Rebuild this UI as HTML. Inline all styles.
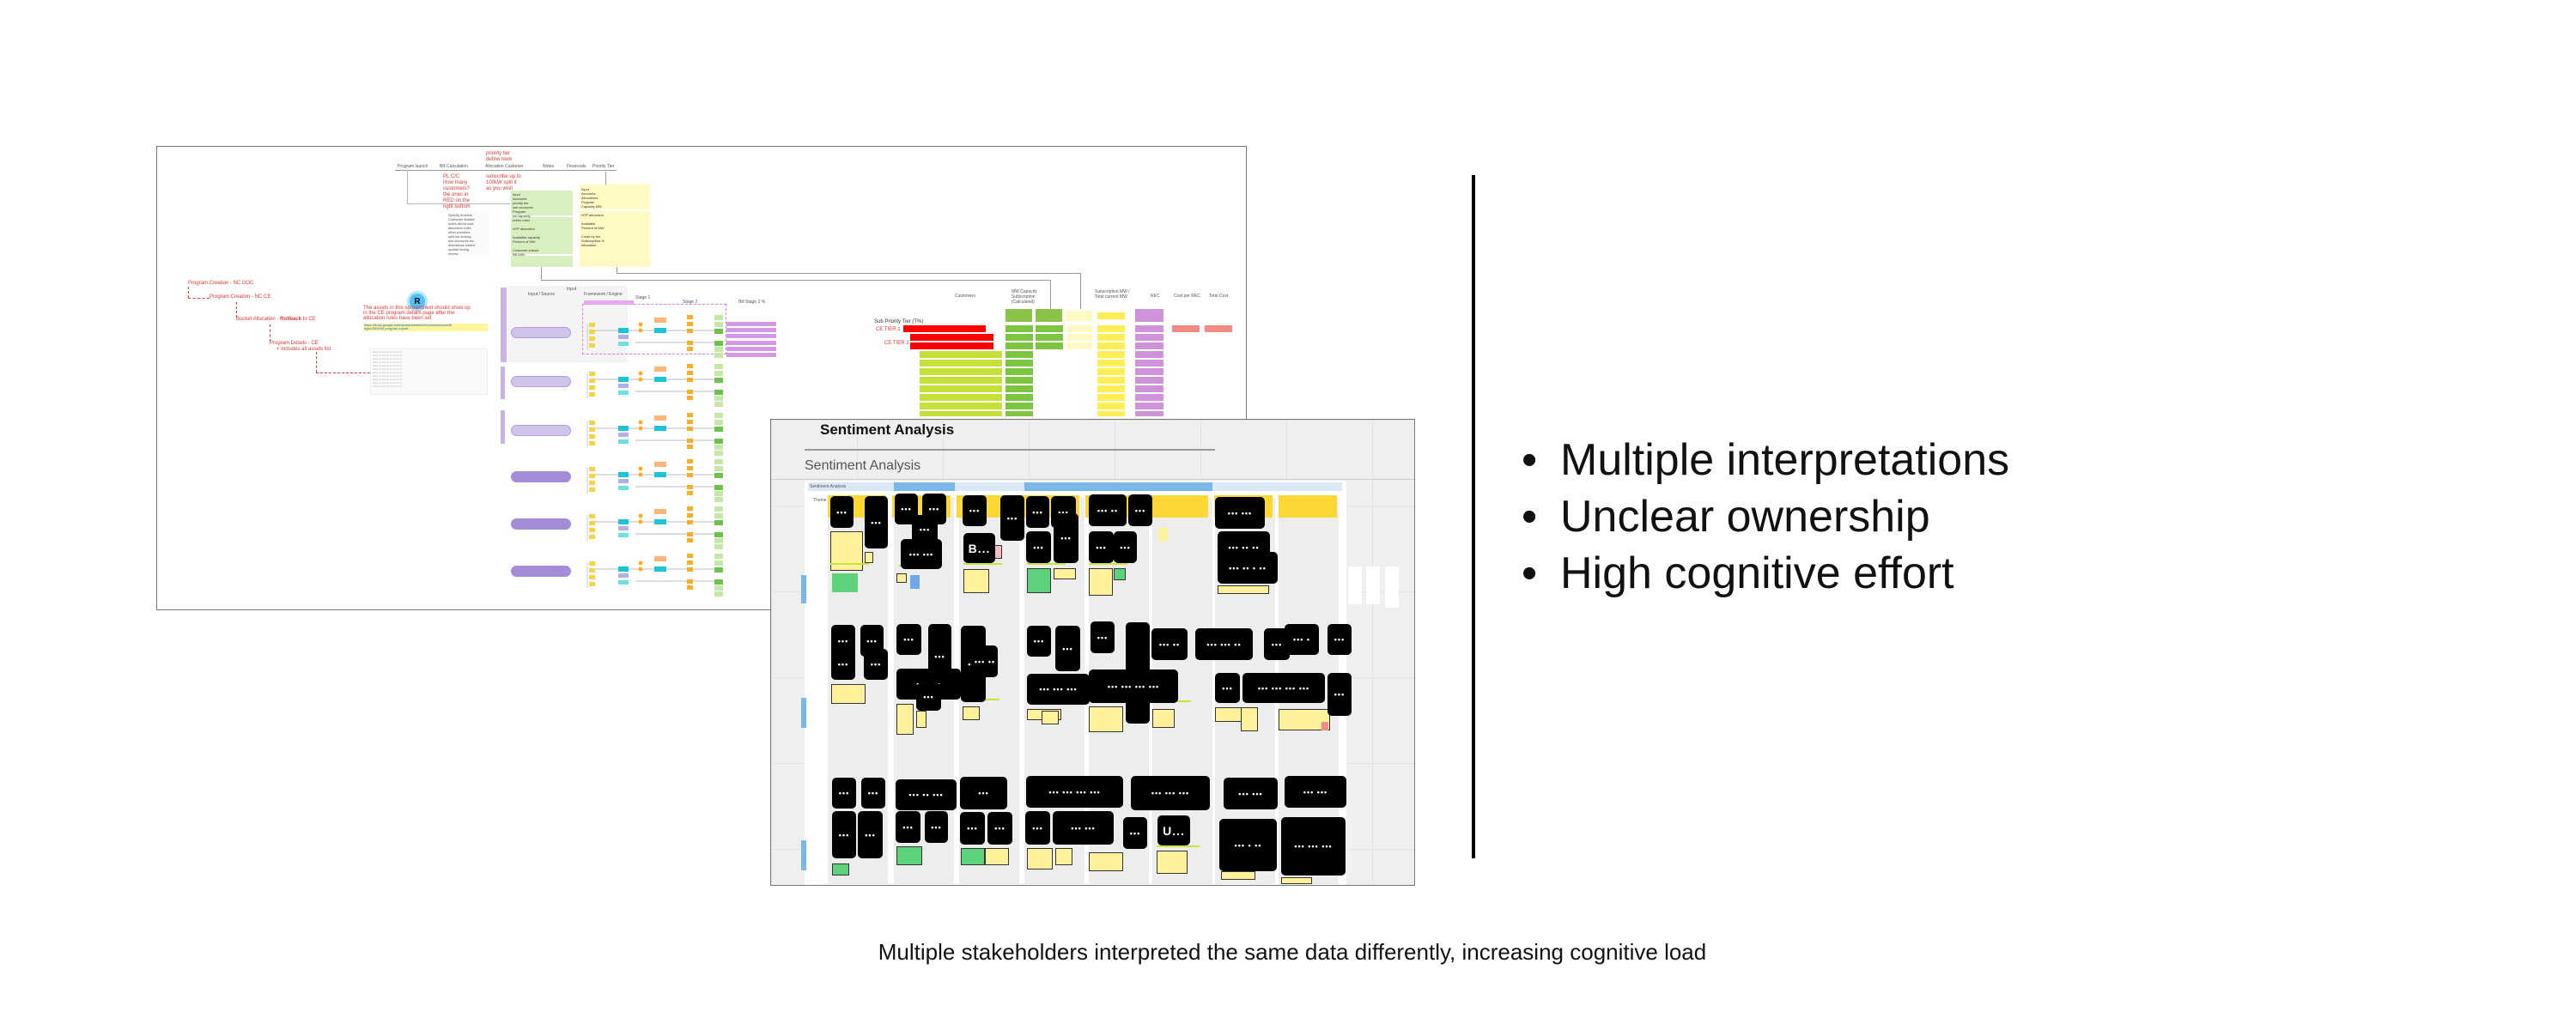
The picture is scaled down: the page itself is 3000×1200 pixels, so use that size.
<!DOCTYPE html>
<html><head><meta charset="utf-8">
<style>
*{margin:0;padding:0;box-sizing:border-box}
body{width:3000px;height:1200px;background:#fff;position:relative;overflow:hidden;font-family:"Liberation Sans",sans-serif}
.a{position:absolute}
.b{position:absolute;background:#000;border-radius:5px;color:#fff;font:bold 9px "Liberation Sans",sans-serif;display:flex;align-items:center;justify-content:center;letter-spacing:1px}
.t{position:absolute;font-size:5px;color:#555;white-space:nowrap}
.r{position:absolute;font-size:6px;color:#e53935;white-space:nowrap}
.n{position:absolute;border-radius:2px}
.col{position:absolute;background:#ededed;top:580px;height:450px;width:70px}
.y{position:absolute;background:#fff29a;border:1.5px solid #333}
.bl{position:absolute;font:52px 'Liberation Sans',sans-serif;color:#111;white-space:nowrap;line-height:60px}
</style></head><body>

<!-- LEFT DIAGRAM -->
<div class="a" style="left:182px;top:170px;width:1270px;height:541px;border:1.5px solid #777;background:#fff"></div>
<div class="r" style="left:566px;top:176px">priority tier</div>
<div class="r" style="left:566px;top:183px">define here</div>
<div class="t" style="left:463px;top:191px">Program launch</div>
<div class="t" style="left:512px;top:191px">Bill Calculation</div>
<div class="t" style="left:565px;top:191px">Allocation Customer</div>
<div class="t" style="left:632px;top:191px">Notes</div>
<div class="t" style="left:660px;top:191px">Financials</div>
<div class="t" style="left:690px;top:191px">Priority Tier</div>
<div class="a" style="left:460px;top:198px;width:258px;height:1px;background:#999"></div>
<div class="a" style="left:474px;top:198px;width:1px;height:40px;background:#bbb"></div>
<div class="a" style="left:474px;top:237px;width:120px;height:1px;background:#bbb"></div>
<div class="r" style="left:516px;top:203px;line-height:7px">PL C/C<br>How many<br>customers?<br>the ones in<br>RED on the<br>right bottom</div>
<div class="r" style="left:566px;top:203px;line-height:7px">subscribe up to<br>100kW split it<br>as you wish</div>
<div class="a" style="left:521px;top:247px;width:50px;height:50px;background:#fafafa"></div>
<div class="t" style="left:522px;top:248px;line-height:5px;font-size:4px">Specify timeline<br>Customer finalize<br>notes about cost<br>allocation rules<br>other priorities<br>split kw among<br>sub accounts etc<br>allocations based<br>update timing<br>review</div>
<div class="a" style="left:595px;top:222px;width:72px;height:89px;background:#d8efbf"></div>
<div class="a" style="left:595px;top:251px;width:72px;height:2px;background:#fff"></div>
<div class="a" style="left:595px;top:296px;width:72px;height:2px;background:#fff"></div>
<div class="t" style="left:597px;top:224px;line-height:5px;font-size:4px;color:#333">Input<br>Accounts<br>priority tier<br>sub accounts<br>Program<br>kw capacity<br>meter rules<br><br>NTP allocation<br><br>Available capacity<br>Percent of MW<br><br>Customer subscr.<br>Bill kWh</div>
<div class="a" style="left:675px;top:215px;width:82px;height:96px;background:#fff9c4"></div>
<div class="a" style="left:675px;top:244px;width:82px;height:2px;background:#fff"></div>
<div class="t" style="left:677px;top:218px;line-height:5px;font-size:4px;color:#333">Input<br>Accounts<br>Allocations<br>Program<br>Capacity MW<br><br>NTP allocation<br><br>Available<br>Percent of MW<br><br>Costs by tier<br>Subscription %<br>Allocation</div>
<div class="a" style="left:705px;top:200px;width:1px;height:15px;background:#999"></div>
<div class="a" style="left:630px;top:311px;width:1px;height:15px;background:#999"></div>
<div class="a" style="left:630px;top:326px;width:594px;height:1px;background:#999"></div>
<div class="a" style="left:1223px;top:326px;width:1px;height:34px;background:#999"></div>
<div class="a" style="left:718px;top:311px;width:1px;height:8px;background:#999"></div>
<div class="a" style="left:718px;top:318px;width:540px;height:1px;background:#999"></div>
<div class="a" style="left:1258px;top:318px;width:1px;height:42px;background:#999"></div>

<div class="r" style="left:219px;top:327px">Program Creation - NC DOC</div>
<div class="a" style="left:219px;top:334px;width:1px;height:13px;border-left:1px dashed #e53935"></div>
<div class="a" style="left:219px;top:347px;width:25px;border-top:1px dashed #e53935"></div>
<div class="r" style="left:244px;top:343px">Program Creation - NC CE</div>
<div class="a" style="left:275px;top:352px;width:1px;height:18px;border-left:1px dashed #e53935"></div>
<div class="r" style="left:275px;top:369px">Bucket Allocation - <b>Rollback</b> to CE</div>
<div class="a" style="left:314px;top:378px;width:1px;height:20px;border-left:1px dashed #e53935"></div>
<div class="r" style="left:314px;top:397px">Program Details - CE</div>
<div class="r" style="left:322px;top:404px">+ Includes all assets list</div>
<div class="a" style="left:368px;top:410px;width:1px;height:24px;border-left:1px dashed #e53935"></div>
<div class="a" style="left:368px;top:434px;width:63px;border-top:1px dashed #e53935"></div>
<div class="a" style="left:431px;top:406px;width:137px;height:54px;background:#fafafa;border:1px solid #eee"></div>
<div class="t" style="left:434px;top:408px;line-height:4px;font-size:3px;color:#aaa">xxxx xx xxx xx xx xx xx xx<br>xxxx xx xxx xx xx xx xx xx<br>xxxx xx xxx xx xx xx xx xx<br>xxxx xx xxx xx xx xx xx xx<br>xxxx xx xxx xx xx xx xx xx<br>xxxx xx xxx xx xx xx xx xx<br>xxxx xx xxx xx xx xx xx xx<br>xxxx xx xxx xx xx xx xx xx<br>xxxx xx xxx xx xx xx xx xx<br>xxxx xx xxx xx xx xx xx xx<br>xxxx xx xxx xx xx xx xx xx</div>
<div class="a" style="left:474px;top:339px;width:24px;height:24px;border-radius:50%;background:#4fc3f7;border:3px solid #b3e5fc;color:#000;font:bold 10px 'Liberation Sans';display:flex;align-items:center;justify-content:center">R</div>
<div class="r" style="left:423px;top:356px;line-height:6px">The assets in this spreadsheet should show up<br>in the CE program details page after the<br>allocation rules have been set</div>
<div class="a" style="left:423px;top:377px;width:145px;height:9px;background:#fff59d"></div>
<div class="t" style="left:424px;top:377px;color:#1565c0;font-size:4px;line-height:4px">https://docs.google.com/spreadsheets/d/1xxxxxxxxxx/edit<br>#gid=000000 program export</div>

<div class="a" style="left:591px;top:333px;width:140px;height:89px;background:#f4f4f4"></div>
<div class="a" style="left:583px;top:335px;width:7px;height:87px;background:#c9b3e6"></div>
<div class="a" style="left:583px;top:427px;width:5px;height:38px;background:#c9b3e6"></div>
<div class="a" style="left:583px;top:478px;width:5px;height:39px;background:#c9b3e6"></div>
<div class="t" style="left:660px;top:334px">Input</div>
<div class="t" style="left:615px;top:340px">Input / Source</div>
<div class="t" style="left:680px;top:340px">Framework / Engine</div>
<div class="t" style="left:740px;top:344px">Stage 1</div>
<div class="t" style="left:795px;top:349px">Stage 2</div>
<div class="t" style="left:860px;top:349px">Bill Stage 2 %</div>
<div class="a" style="left:678px;top:354px;width:168px;height:59px;border:1px dashed #e57fd9"></div>
<div class="a" style="left:680px;top:350px;width:58px;height:5px;background:#e6a8ef"></div>
<div class="a" style="left:846px;top:375px;width:58px;height:5px;background:#d39ae6"></div>
<div class="a" style="left:846px;top:382px;width:58px;height:5px;background:#d39ae6"></div>
<div class="a" style="left:846px;top:389px;width:58px;height:5px;background:#d39ae6"></div>
<div class="a" style="left:846px;top:397px;width:58px;height:5px;background:#d39ae6"></div>
<div class="a" style="left:846px;top:404px;width:58px;height:5px;background:#d39ae6"></div>
<div class="a" style="left:846px;top:411px;width:58px;height:5px;background:#d39ae6"></div>

<div class="a" style="left:595px;top:381px;width:70px;height:13px;border-radius:7px;background:#d1c4ec;border:1px solid #b39ddb"></div>
<div class="a" style="left:595px;top:438px;width:70px;height:13px;border-radius:7px;background:#d1c4ec;border:1px solid #b39ddb"></div>
<div class="a" style="left:595px;top:495px;width:70px;height:13px;border-radius:7px;background:#d1c4ec;border:1px solid #b39ddb"></div>
<div class="a" style="left:595px;top:549px;width:70px;height:13px;border-radius:7px;background:#a68bd6"></div>
<div class="a" style="left:595px;top:604px;width:70px;height:13px;border-radius:7px;background:#a68bd6"></div>
<div class="a" style="left:595px;top:659px;width:70px;height:13px;border-radius:7px;background:#a68bd6"></div>

<div class="t" style="left:1112px;top:342px">Customers</div>
<div class="t" style="left:1178px;top:337px;line-height:6px">MW Capacity<br>Subscription<br>(Calculated)</div>
<div class="t" style="left:1275px;top:337px;line-height:6px">Subscription MW /<br>Total current MW</div>
<div class="t" style="left:1340px;top:342px">REC</div>
<div class="t" style="left:1367px;top:342px">Cost per REC</div>
<div class="t" style="left:1408px;top:342px">Total Cost</div>
<div class="a" style="left:1171px;top:360px;width:31px;height:15px;background:#8bc34a"></div>
<div class="a" style="left:1206px;top:360px;width:31px;height:15px;background:#8bc34a"></div>
<div class="a" style="left:1241px;top:362px;width:31px;height:12px;background:#fff9c4"></div>
<div class="a" style="left:1278px;top:364px;width:32px;height:8px;background:#ffee58"></div>
<div class="a" style="left:1322px;top:360px;width:33px;height:15px;background:#ce93d8"></div>
<div class="r" style="left:1018px;top:372px;color:#333">Sub Priority Tier (T%)</div>
<div class="r" style="left:1020px;top:381px">CE TIER 1</div>
<div class="r" style="left:1030px;top:397px">CE TIER 2</div>
<div class="a" style="left:1052px;top:379px;width:96px;height:8px;background:#f00"></div>
<div class="a" style="left:1060px;top:389px;width:97px;height:8px;background:#f00"></div>
<div class="a" style="left:1060px;top:399px;width:97px;height:8px;background:#f00"></div>
<div class="a" style="left:1071px;top:409px;width:96px;height:76px;background:repeating-linear-gradient(#c5e03a 0 8px,#fff 8px 10px)"></div>
<div class="a" style="left:1171px;top:379px;width:32px;height:106px;background:repeating-linear-gradient(#7cc441 0 8px,#fff 8px 10px)"></div>
<div class="a" style="left:1206px;top:379px;width:32px;height:28px;background:repeating-linear-gradient(#7cc441 0 8px,#fff 8px 10px)"></div>
<div class="a" style="left:1242px;top:379px;width:30px;height:28px;background:repeating-linear-gradient(#fff9c4 0 8px,#fff 8px 10px)"></div>
<div class="a" style="left:1278px;top:379px;width:32px;height:106px;background:repeating-linear-gradient(#ffee58 0 8px,#fff 8px 10px)"></div>
<div class="a" style="left:1322px;top:379px;width:33px;height:106px;background:repeating-linear-gradient(#ce93d8 0 8px,#fff 8px 10px)"></div>
<div class="a" style="left:1365px;top:379px;width:32px;height:8px;background:#f28b82"></div>
<div class="a" style="left:1403px;top:379px;width:32px;height:8px;background:#f28b82"></div>

<svg class="a" style="left:0;top:0" width="1000" height="720">
<defs>
<g id="lane">
<line x1="684" y1="-10" x2="684" y2="20" stroke="#ccc"/>
<line x1="690" y1="-2" x2="840" y2="-2" stroke="#bbb"/>
<line x1="740" y1="12" x2="840" y2="12" stroke="#bbb"/>
<rect x="686" y="-11" width="7" height="5" fill="#f5d34a"/>
<rect x="686" y="-3" width="7" height="5" fill="#f5d34a"/>
<rect x="686" y="5" width="7" height="5" fill="#f5d34a"/>
<rect x="686" y="13" width="7" height="5" fill="#f5d34a"/>
<rect x="720" y="-5" width="12" height="6" fill="#1fc4d4"/>
<rect x="720" y="3" width="12" height="5" fill="#b0b0e8"/>
<rect x="720" y="11" width="12" height="5" fill="#6ce0e8"/>
<rect x="762" y="-5" width="14" height="6" fill="#1fc4d4"/>
<rect x="762" y="-17" width="14" height="6" fill="#f7b87a"/>
<circle cx="746" cy="-9" r="2.5" fill="#f5b02a"/>
<circle cx="746" cy="-2" r="2.5" fill="#f5b02a"/>
<rect x="800" y="-20" width="7" height="5" fill="#f5b02a"/>
<rect x="800" y="-12" width="7" height="5" fill="#f5b02a"/>
<rect x="800" y="-4" width="7" height="5" fill="#f5b02a"/>
<rect x="800" y="10" width="7" height="5" fill="#f5b02a"/>
<rect x="800" y="17" width="7" height="5" fill="#f5b02a"/>
<rect x="832" y="-20" width="10" height="6" fill="#c5e8a8"/>
<rect x="832" y="-12" width="10" height="6" fill="#c5e8a8"/>
<rect x="832" y="-4" width="10" height="6" fill="#6cc24a"/>
<rect x="832" y="10" width="10" height="6" fill="#6cc24a"/>
<rect x="832" y="17" width="10" height="6" fill="#c5e8a8"/>
<rect x="832" y="24" width="10" height="6" fill="#c5e8a8"/>
</g>
</defs>
<use href="#lane" y="387"/>
<use href="#lane" y="444"/>
<use href="#lane" y="501"/>
<use href="#lane" y="555"/>
<use href="#lane" y="610"/>
<use href="#lane" y="665"/>
</svg>

<!-- SCREENSHOT 2 -->
<div class="a" style="left:897px;top:488px;width:751px;height:544px;background-color:#efefef;background-image:linear-gradient(#e2e2e2 1px,transparent 1px),linear-gradient(90deg,#e2e2e2 1px,transparent 1px);background-size:100px 100px;border:1.5px solid #777;overflow:hidden"></div>
<div class="a" style="left:955px;top:491px;font:bold 17px 'Liberation Sans',sans-serif;color:#111">Sentiment Analysis</div>
<div class="a" style="left:937px;top:523px;width:478px;height:2px;background:#999"></div>
<div class="a" style="left:937px;top:534px;font:16px 'Liberation Sans',sans-serif;color:#555">Sentiment Analysis</div>
<div class="a" style="left:898px;top:558px;width:749px;height:1px;background:#ccc"></div>
<div class="a" style="left:937px;top:560px;width:631px;height:471px;background:#fff"></div>
<div class="a" style="left:941px;top:562px;width:622px;height:10px;background:#dce8f4"></div>
<div class="t" style="left:943px;top:564px">Sentiment Analysis</div>
<div class="a" style="left:1041px;top:562px;width:71px;height:10px;background:#7cb7ea"></div>
<div class="a" style="left:1193px;top:562px;width:219px;height:10px;background:#7cb7ea"></div>
<div class="t" style="left:947px;top:580px">Theme</div>
<div class="col" style="left:964px"></div><div class="col" style="left:1041px"></div><div class="col" style="left:1117px"></div><div class="col" style="left:1193px"></div><div class="col" style="left:1268px"></div><div class="col" style="left:1342px"></div><div class="col" style="left:1415px"></div><div class="col" style="left:1489px"></div>
<div class="a" style="left:964px;top:577px;width:598px;height:26px;background:repeating-linear-gradient(90deg,#fdd835 0 68px,transparent 68px 75px)"></div>
<div class="a" style="left:933px;top:670px;width:6px;height:33px;background:#7cb7ea"></div>
<div class="a" style="left:933px;top:813px;width:6px;height:35px;background:#7cb7ea"></div>
<div class="a" style="left:933px;top:979px;width:6px;height:35px;background:#7cb7ea"></div>
<div class="a" style="left:1570px;top:660px;width:16px;height:44px;background:#fff"></div>
<div class="a" style="left:1591px;top:660px;width:16px;height:44px;background:#fff"></div>
<div class="a" style="left:1613px;top:660px;width:16px;height:48px;background:#fff"></div>

<div style="position:absolute;left:-3px;top:-2px;width:3000px;height:1200px">
<div class="y" style="left:970px;top:621px;width:38px;height:46px"></div>
<div class="y" style="left:1010px;top:645px;width:10px;height:13px"></div>
<div class="a" style="left:972px;top:670px;width:30px;height:22px;background:#5cd27a"></div>
<div class="y" style="left:1047px;top:670px;width:12px;height:11px"></div>
<div class="a" style="left:1063px;top:672px;width:11px;height:16px;background:#6fa8e8"></div>
<div class="y" style="left:1125px;top:665px;width:30px;height:28px"></div>
<div class="a" style="left:1160px;top:637px;width:10px;height:16px;background:#f7bcc0;border:1px solid #333"></div>
<div class="a" style="left:1199px;top:664px;width:28px;height:29px;background:#5cd27a;border:1.5px solid #333"></div>
<div class="y" style="left:1230px;top:664px;width:26px;height:13px"></div>
<div class="y" style="left:1271px;top:664px;width:28px;height:32px"></div>
<div class="a" style="left:1300px;top:664px;width:14px;height:14px;background:#5cd27a;border:1.5px solid #333"></div>
<div class="a" style="left:1352px;top:617px;width:11px;height:16px;background:#fff29a"></div>
<div class="y" style="left:1421px;top:684px;width:60px;height:10px"></div>
<div class="y" style="left:971px;top:799px;width:40px;height:23px"></div>
<div class="y" style="left:1047px;top:822px;width:20px;height:36px"></div>
<div class="y" style="left:1070px;top:830px;width:12px;height:20px"></div>
<div class="y" style="left:1124px;top:825px;width:20px;height:16px"></div>
<div class="y" style="left:1199px;top:828px;width:40px;height:13px"></div>
<div class="y" style="left:1216px;top:830px;width:20px;height:16px"></div>
<div class="y" style="left:1271px;top:825px;width:40px;height:30px"></div>
<div class="y" style="left:1345px;top:828px;width:26px;height:22px"></div>
<div class="y" style="left:1418px;top:826px;width:40px;height:17px"></div>
<div class="y" style="left:1448px;top:826px;width:20px;height:28px"></div>
<div class="y" style="left:1492px;top:828px;width:60px;height:25px"></div>
<div class="a" style="left:1542px;top:843px;width:8px;height:10px;background:#f48a8a"></div>
<div class="a" style="left:972px;top:1008px;width:20px;height:14px;background:#5cd27a;border:1.5px solid #333"></div>
<div class="a" style="left:1047px;top:988px;width:30px;height:22px;background:#5cd27a;border:1.5px solid #333"></div>
<div class="a" style="left:1122px;top:990px;width:28px;height:20px;background:#5cd27a;border:1.5px solid #333"></div>
<div class="y" style="left:1150px;top:990px;width:28px;height:20px"></div>
<div class="y" style="left:1199px;top:990px;width:30px;height:25px"></div>
<div class="y" style="left:1232px;top:990px;width:20px;height:20px"></div>
<div class="y" style="left:1271px;top:995px;width:40px;height:22px"></div>
<div class="y" style="left:1350px;top:993px;width:36px;height:27px"></div>
<div class="y" style="left:1425px;top:1017px;width:40px;height:10px"></div>
<div class="y" style="left:1495px;top:1024px;width:36px;height:8px"></div>
<div class="a" style="left:970px;top:658px;width:45px;height:2px;background:#c6e63c"></div>
<div class="a" style="left:1050px;top:660px;width:45px;height:2px;background:#c6e63c"></div>
<div class="a" style="left:1125px;top:658px;width:45px;height:2px;background:#c6e63c"></div>
<div class="a" style="left:1199px;top:658px;width:45px;height:2px;background:#c6e63c"></div>
<div class="a" style="left:1271px;top:658px;width:45px;height:2px;background:#c6e63c"></div>
<div class="a" style="left:1122px;top:816px;width:45px;height:2px;background:#c6e63c"></div>
<div class="a" style="left:1345px;top:818px;width:45px;height:2px;background:#c6e63c"></div>
<div class="a" style="left:1350px;top:987px;width:50px;height:2px;background:#c6e63c"></div>

<div class="b" style="left:970px;top:580px;width:27px;height:37px">•••</div>
<div class="b" style="left:1010px;top:580px;width:27px;height:61px">•••</div>
<div class="b" style="left:1045px;top:577px;width:27px;height:36px">•••</div>
<div class="b" style="left:1077px;top:577px;width:28px;height:36px">•••</div>
<div class="b" style="left:1065px;top:602px;width:30px;height:33px">•••</div>
<div class="b" style="left:1052px;top:630px;width:48px;height:35px">••• •••</div>
<div class="b" style="left:1124px;top:579px;width:28px;height:36px">•••</div>
<div class="b" style="left:1168px;top:579px;width:28px;height:53px">•••</div>
<div class="b" style="left:1125px;top:623px;width:37px;height:35px;font-size:14px">B...</div>
<div class="b" style="left:1198px;top:580px;width:27px;height:37px">•••</div>
<div class="b" style="left:1227px;top:580px;width:29px;height:37px">•••</div>
<div class="b" style="left:1198px;top:621px;width:29px;height:37px">•••</div>
<div class="b" style="left:1230px;top:600px;width:29px;height:58px">•••</div>
<div class="b" style="left:1271px;top:578px;width:44px;height:37px">••• ••</div>
<div class="b" style="left:1317px;top:578px;width:28px;height:37px">•••</div>
<div class="b" style="left:1271px;top:621px;width:29px;height:37px">•••</div>
<div class="b" style="left:1300px;top:621px;width:27px;height:37px">•••</div>
<div class="b" style="left:1418px;top:581px;width:58px;height:37px">••• •••</div>
<div class="b" style="left:1421px;top:621px;width:61px;height:37px">••• •• ••</div>
<div class="b" style="left:1421px;top:645px;width:70px;height:37px">••• •• • ••</div>

<div class="b" style="left:971px;top:730px;width:28px;height:37px">•••</div>
<div class="b" style="left:1005px;top:730px;width:27px;height:37px">•••</div>
<div class="b" style="left:971px;top:758px;width:28px;height:36px">•••</div>
<div class="b" style="left:1009px;top:758px;width:28px;height:36px">•••</div>
<div class="b" style="left:1047px;top:729px;width:29px;height:36px">•••</div>
<div class="b" style="left:1084px;top:729px;width:27px;height:75px">•••</div>
<div class="b" style="left:1047px;top:781px;width:75px;height:36px">••• •••</div>
<div class="b" style="left:1070px;top:798px;width:29px;height:32px">•••</div>
<div class="b" style="left:1122px;top:731px;width:29px;height:89px">•••</div>
<div class="b" style="left:1135px;top:754px;width:30px;height:37px">••• ••</div>
<div class="b" style="left:1199px;top:731px;width:28px;height:36px">•••</div>
<div class="b" style="left:1232px;top:731px;width:29px;height:53px">•••</div>
<div class="b" style="left:1199px;top:787px;width:73px;height:36px">••• ••• •••</div>
<div class="b" style="left:1273px;top:726px;width:28px;height:37px">•••</div>
<div class="b" style="left:1314px;top:727px;width:28px;height:118px">•••</div>
<div class="b" style="left:1271px;top:782px;width:104px;height:39px">••• ••• ••• •••</div>
<div class="b" style="left:1344px;top:734px;width:42px;height:37px">••• ••</div>
<div class="b" style="left:1395px;top:734px;width:67px;height:37px">••• ••• ••</div>
<div class="b" style="left:1475px;top:734px;width:30px;height:37px">•••</div>
<div class="b" style="left:1499px;top:729px;width:40px;height:36px">••• •</div>
<div class="b" style="left:1549px;top:729px;width:28px;height:36px">•••</div>
<div class="b" style="left:1418px;top:786px;width:29px;height:35px">•••</div>
<div class="b" style="left:1450px;top:786px;width:96px;height:35px">••• ••• ••• •••</div>
<div class="b" style="left:1549px;top:786px;width:28px;height:50px">•••</div>

<div class="b" style="left:972px;top:908px;width:28px;height:36px">•••</div>
<div class="b" style="left:1006px;top:908px;width:28px;height:36px">•••</div>
<div class="b" style="left:972px;top:947px;width:28px;height:55px">•••</div>
<div class="b" style="left:1002px;top:947px;width:29px;height:55px">•••</div>
<div class="b" style="left:1046px;top:910px;width:71px;height:36px">••• •• •••</div>
<div class="b" style="left:1121px;top:907px;width:55px;height:38px">•••</div>
<div class="b" style="left:1046px;top:947px;width:29px;height:37px">•••</div>
<div class="b" style="left:1080px;top:947px;width:27px;height:37px">•••</div>
<div class="b" style="left:1121px;top:948px;width:29px;height:38px">•••</div>
<div class="b" style="left:1153px;top:948px;width:29px;height:38px">•••</div>
<div class="b" style="left:1198px;top:906px;width:113px;height:37px">••• ••• ••• •••</div>
<div class="b" style="left:1197px;top:947px;width:29px;height:39px">•••</div>
<div class="b" style="left:1229px;top:947px;width:71px;height:39px">••• •••</div>
<div class="b" style="left:1311px;top:954px;width:28px;height:37px">•••</div>
<div class="b" style="left:1320px;top:906px;width:92px;height:40px">••• ••• •••</div>
<div class="b" style="left:1351px;top:952px;width:38px;height:35px;font-size:14px">U...</div>
<div class="b" style="left:1428px;top:908px;width:63px;height:37px">••• •••</div>
<div class="b" style="left:1499px;top:906px;width:72px;height:37px">••• •••</div>
<div class="b" style="left:1423px;top:956px;width:67px;height:61px">••• • ••</div>
<div class="b" style="left:1495px;top:954px;width:75px;height:68px">••• ••• •••</div>
</div>

<!-- vertical divider & bullets -->
<div class="a" style="left:1714px;top:204px;width:4px;height:796px;background:#000"></div>
<div class="bl" style="left:1772px;top:506px">•</div><div class="bl" style="left:1817px;top:506px">Multiple interpretations</div>
<div class="bl" style="left:1772px;top:572px">•</div><div class="bl" style="left:1817px;top:572px">Unclear ownership</div>
<div class="bl" style="left:1772px;top:638px">•</div><div class="bl" style="left:1817px;top:638px">High cognitive effort</div>
<div class="a" style="left:0;width:3010px;top:1094px;text-align:center;font:26px 'Liberation Sans',sans-serif;color:#111">Multiple stakeholders interpreted the same data differently, increasing cognitive load</div>
</body></html>
